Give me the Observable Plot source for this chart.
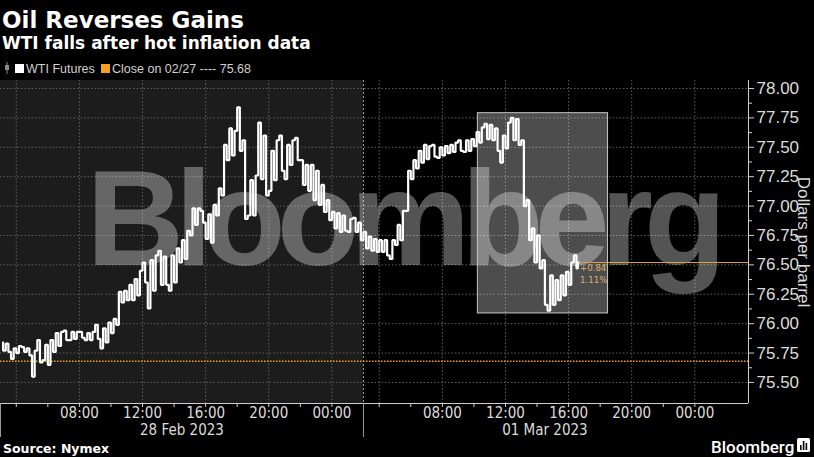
<!DOCTYPE html>
<html><head><meta charset="utf-8">
<script src="https://cdn.jsdelivr.net/npm/d3@7"></script>
<script src="https://cdn.jsdelivr.net/npm/@observablehq/plot@0.6"></script>
<style>
html,body{margin:0;padding:0;background:#000;width:814px;height:457px;overflow:hidden;}
#wrap{position:relative;width:814px;height:457px;background:#000;}
.abs{position:absolute;white-space:nowrap;line-height:1;}
.title{left:2px;top:7px;font:bold 23px "DejaVu Sans",sans-serif;color:#fff;}
.subtitle{left:2px;top:33px;font:bold 17px "DejaVu Sans",sans-serif;color:#fff;}
.leg{top:62px;font:12.5px "Liberation Sans",sans-serif;color:#d0d0d0;}
.sq{position:absolute;width:9px;height:9px;top:64px;}
.source{left:3px;top:441px;font:bold 12.5px "DejaVu Sans",sans-serif;color:#fff;}
.logo{left:711px;top:437px;font:500 17px "Roboto","Liberation Sans",sans-serif;color:#fff;}
#chart{position:absolute;left:0;top:80px;}
</style></head>
<body><div id="wrap">
<div class="abs title">Oil Reverses Gains</div>
<div class="abs subtitle">WTI falls after hot inflation data</div>
<svg class="abs" style="left:4px;top:62px" width="8" height="12"><line x1="3" y1="0" x2="3" y2="12" stroke="#888" stroke-width="1"/><rect x="1" y="3" width="4" height="5" fill="#888"/></svg>
<div class="sq" style="left:15px;background:#fff"></div>
<div class="abs leg" id="leg1" style="left:26px"></div>
<div class="sq" style="left:101px;background:#f5a01e"></div>
<div class="abs leg" id="leg2" style="left:112px"></div>
<div id="chart"></div>
<div class="abs source">Source: Nymex</div>
<div class="abs logo">Bloomberg</div>
<svg class="abs" style="left:797px;top:438px" width="13" height="14"><rect x="0" y="0" width="13" height="14" rx="1.5" fill="#fff"/><rect x="3" y="7" width="1.6" height="5" fill="#000"/><rect x="5.8" y="3" width="1.6" height="9" fill="#000"/><rect x="8.6" y="5" width="1.6" height="7" fill="#000"/></svg>
</div>
<script>
// ---- data ----
const seriesName = "WTI Futures";
const prevCloseLabel = "Close on 02/27";
const prevClose = 75.68;
const lastClose = 76.52;
const barMinutes = 20;            // bars start 03:00 on 28 Feb (trading session start)
const sessionHours = 23;          // 03:00 -> 02:00, one-hour break
const dayLabels = ["28 Feb 2023", "01 Mar 2023"];
const clockLabels = ["08:00", "12:00", "16:00", "20:00", "00:00"];
const yTicks = [75.5, 75.75, 76.0, 76.25, 76.5, 76.75, 77.0, 77.25, 77.5, 77.75, 78.0];
const highs = [75.84,75.83,75.79,75.81,75.80,75.79,75.77,75.86,75.82,75.86,
  75.92,75.93,75.94,75.93,75.93,75.93,75.92,75.93,75.99,75.96,
  76.01,76.04,76.27,76.28,76.33,76.38,76.45,76.52,76.54,76.58,
  76.62,76.57,76.58,76.64,76.71,76.79,76.98,76.98,76.96,76.93,
  77.01,77.15,77.52,77.66,77.64,77.84,77.56,77.22,77.26,77.71,
  77.60,77.47,77.56,77.60,77.52,77.56,77.58,77.39,77.35,77.35,
  77.30,77.18,77.05,76.95,76.94,76.92,76.89,76.90,76.86,76.78,
  76.74,76.72,76.71,76.71,76.71,76.84,76.96,77.30,77.39,77.47,
  77.52,77.51,77.52,77.50,77.51,77.52,77.54,77.56,77.56,77.57,
  77.63,77.67,77.70,77.69,77.66,77.60,77.71,77.75,77.74,77.56,
  77.05,76.81,76.75,76.54,76.41,76.37,76.41,76.44,76.52,76.58];
const lows = [75.77,75.76,75.70,75.75,75.76,75.73,75.55,75.67,75.69,75.65,
  75.76,75.81,75.86,75.86,75.87,75.88,75.86,75.86,75.87,75.79,
  75.84,75.92,75.99,76.18,76.20,76.20,76.24,76.35,76.13,76.28,
  76.33,76.33,76.28,76.35,76.52,76.55,76.75,76.84,76.86,76.72,
  76.69,76.92,77.09,77.39,77.43,77.47,76.89,76.92,76.92,77.23,
  77.09,77.13,77.22,77.30,77.23,77.35,77.39,77.18,77.13,77.05,
  77.01,76.95,76.88,76.81,76.78,76.79,76.78,76.78,76.71,76.64,
  76.62,76.61,76.61,76.58,76.55,76.67,76.71,76.96,77.23,77.32,
  77.37,77.40,77.42,77.41,77.43,77.45,77.46,77.47,77.46,77.47,
  77.51,77.54,77.57,77.56,77.47,77.37,77.49,77.56,77.52,77.00,
  76.71,76.52,76.47,76.16,76.11,76.16,76.20,76.24,76.33,76.47];
// highlighted window on 01 Mar (clock times) and price span
const highlight = [{day: 1, from: "10:15", to: "18:30", low: 76.087, high: 77.79}];

// ---- helpers ----
const toT = (day, clock) => { const [h, m] = clock.split(":").map(Number); let v = h + m / 60 - 3; if (v < 0) v += 24; return day * sessionHours + v; };
const xEnd = 47.4;
const yDomain = [75.321, 78.068];
const pts = [];
for (let i = 0; i < highs.length; i++) {
  const t = (i + 0.5) * barMinutes / 60;
  const mid = (highs[i] + lows[i]) / 2;
  const nextMid = i + 1 < highs.length ? (highs[i + 1] + lows[i + 1]) / 2 : lastClose;
  if (nextMid >= mid) pts.push({t, v: lows[i]}, {t, v: highs[i]});
  else pts.push({t, v: highs[i]}, {t, v: lows[i]});
}
const tLast = highs.length * barMinutes / 60;
pts.push({t: tLast, v: lastClose});
const change = lastClose - prevClose;
const pct = change / prevClose * 100;

document.getElementById("leg1").textContent = seriesName;
document.getElementById("leg2").textContent = `${prevCloseLabel} ---- ${prevClose.toFixed(2)}`;

const labelTicks = [], labelMap = new Map(), tick2h = [], gridT = [];
for (let d = 0; d < 2; d++) {
  clockLabels.forEach(c => { const t = toT(d, c); labelTicks.push(t); labelMap.set(t, c); });
  for (let h = 4; h <= 24; h += 2) { const c = String(h % 24).padStart(2, "0") + ":00"; tick2h.push(toT(d, c)); }
  ["04:00", "08:00", "12:00", "16:00", "20:00", "00:00"].forEach(c => gridT.push(toT(d, c)));
}
const dayBounds = [0, sessionHours];
const dayCenters = [sessionHours / 2, sessionHours * 1.5];
const yMinor = yTicks.slice(0, -1).map(v => v + 0.125);
const NARROW = '"Liberation Sans Narrow","Arial Narrow","DejaVu Sans Condensed","Liberation Sans",sans-serif';

const chart = Plot.plot({
  width: 814, height: 360,
  marginLeft: 0, marginRight: 66, marginTop: 0, marginBottom: 37,
  style: {background: "transparent", color: "#dcdcdc", fontFamily: NARROW, overflow: "visible"},
  x: {type: "linear", domain: [0, xEnd], axis: null},
  y: {domain: yDomain, axis: null},
  marks: [
    Plot.rect([0], {x1: 0, x2: sessionHours, fill: "#1c1c1c"}),
    Plot.ruleY(yTicks, {stroke: "#5e5e5e", strokeDasharray: "1.5,2"}),
    Plot.ruleX(gridT, {stroke: "#5e5e5e", strokeDasharray: "1.5,2"}),
    Plot.ruleX([sessionHours], {stroke: "#9a9a9a", strokeDasharray: "2,2"}),
    Plot.text(["Bloomberg"], {frameAnchor: "left", dx: 86, dy: -20, textAnchor: "start", fontSize: 135, fontWeight: "bold", fontFamily: "Liberation Sans", fill: "#fff", fillOpacity: 0.33}),
    Plot.rect(highlight, {x1: d => toT(d.day, d.from), x2: d => toT(d.day, d.to), y1: "low", y2: "high", fill: "#fff", fillOpacity: 0.3, stroke: "#c8c8c8", strokeWidth: 1}),
    Plot.ruleY([prevClose], {stroke: "#f5a01e", strokeDasharray: "1.5,1.5", strokeWidth: 1.4}),
    Plot.line(pts, {x: "t", y: "v", stroke: "#fff", strokeWidth: 2.2, curve: "step", strokeLinejoin: "miter"}),
    Plot.ruleY([lastClose], {x1: tLast, x2: xEnd, stroke: "#e0a048", strokeWidth: 1}),
    Plot.text([`+${change.toFixed(2)}`], {x: tLast, y: lastClose, dx: 1, dy: 5, textAnchor: "start", fill: "#dcb36c", fontSize: 9.5}),
    Plot.text([`${pct.toFixed(2)}%`], {x: tLast, y: lastClose, dx: 1, dy: 17, textAnchor: "start", fill: "#dcb36c", fontSize: 9.5}),
    Plot.ruleX([xEnd], {stroke: "#cfcfcf"}),
    Plot.ruleY([yDomain[0]], {stroke: "#cfcfcf"}),
    Plot.axisY(yTicks, {anchor: "right", tickSize: 5, tickPadding: 3, tickFormat: d => d.toFixed(2), fontSize: 17, fontFamily: "Liberation Sans", label: null, stroke: "#cfcfcf"}),
    Plot.axisY(yMinor, {anchor: "right", tickSize: 3, tickFormat: () => "", label: null, stroke: "#cfcfcf"}),
    Plot.axisX(tick2h, {anchor: "bottom", tickSize: 4, tickFormat: () => "", label: null, stroke: "#cfcfcf"}),
    Plot.axisX(dayBounds, {anchor: "bottom", tickSize: 34, tickFormat: () => "", label: null, stroke: "#9a9a9a"}),
    Plot.axisX(labelTicks, {anchor: "bottom", tickSize: 0, tickPadding: 4, tickFormat: t => labelMap.get(t), fontSize: 15, label: null}),
    Plot.axisX(dayCenters, {anchor: "bottom", tickSize: 0, tickPadding: 21, tickFormat: (t, i) => dayLabels[i], fontSize: 15, label: null}),
    Plot.text(["Dollars per barrel"], {frameAnchor: "right", rotate: 90, dx: 55, textAnchor: "middle", lineAnchor: "middle", fontSize: 17, fontFamily: "Liberation Sans", fill: "#dcdcdc"})
  ]
});
document.getElementById("chart").appendChild(chart);
d3.select(chart).selectAll("text").filter(function(){ return this.textContent === "Bloomberg"; })
  .attr("textLength", 640).attr("lengthAdjust", "spacing");
</script>
</body></html>
